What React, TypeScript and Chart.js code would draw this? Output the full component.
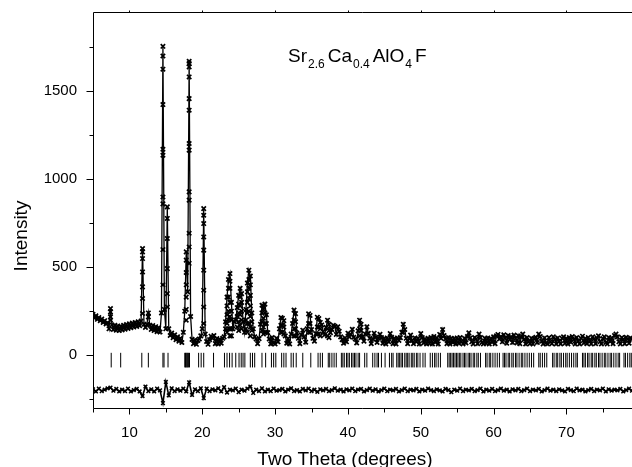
import React, { useEffect, useRef } from "react";
import { Chart, registerables } from "chart.js";

Chart.register(...registerables);

// ---- Scan definition (2θ grid of the measured pattern) ----
const SCAN_START = 5;
const SCAN_STEP = 0.2;

// Observed intensities on the 0.2° grid, 5.0° … 79.0°
const observed = [
  232, 212, 224, 204, 214, 196, 206, 186, 196, 178,
  184, 150, 265, 172, 146, 170, 142, 166, 140, 164,
  144, 170, 148, 174, 152, 178, 156, 182, 160, 186,
  164, 190, 168, 194, 606, 176, 158, 174, 240, 170,
  146, 168, 140, 162, 134, 156, 132, 240, 1755, 260,
  150, 843, 150, 112, 126, 100, 116, 88, 104, 80,
  96, 72, 130, 250, 587, 360, 1670, 220, 90, 66,
  86, 62, 84, 92, 110, 150, 833, 120, 78, 62,
  88, 108, 96, 112, 66, 94, 64, 90, 68, 96,
  104, 190, 330, 430, 464, 300, 150, 190, 200, 270,
  340, 380, 350, 190, 130, 260, 410, 483, 450, 240,
  150, 104, 92, 66, 94, 176, 284, 262, 290, 230,
  128, 92, 64, 100, 70, 64, 96, 76, 150, 214,
  210, 196, 110, 68, 94, 64, 120, 180, 256, 236,
  126, 96, 66, 116, 142, 104, 74, 150, 235, 226,
  146, 96, 80, 122, 216, 208, 186, 172, 134, 116,
  158, 199, 176, 128, 146, 170, 164, 118, 161, 136,
  104, 88, 68, 98, 76, 125, 104, 118, 147, 102,
  92, 70, 138, 199, 176, 104, 80, 120, 161, 124,
  96, 66, 92, 125, 102, 72, 96, 119, 100, 68,
  94, 64, 98, 76, 123, 102, 66, 94, 64, 98,
  84, 100, 130, 176, 146, 96, 66, 94, 114, 84,
  66, 98, 76, 96, 64, 123, 100, 70, 92, 64,
  96, 68, 100, 64, 106, 74, 98, 64, 118, 96,
  146, 112, 92, 66, 100, 64, 96, 72, 94, 64,
  98, 68, 100, 76, 64, 96, 70, 106, 127, 98,
  76, 64, 100, 92, 66, 120, 100, 72, 64, 96,
  68, 98, 64, 94, 74, 104, 66, 110, 118, 92,
  106, 76, 116, 98, 68, 112, 90, 104, 72, 114,
  96, 70, 110, 66, 102, 120, 90, 64, 100, 76,
  66, 96, 64, 94, 102, 72, 120, 106, 80, 64,
  98, 70, 64, 100, 76, 66, 104, 90, 64, 98,
  78, 64, 96, 104, 68, 94, 64, 100, 74, 106,
  90, 64, 100, 80, 64, 96, 108, 70, 94, 66,
  100, 80, 64, 104, 92, 66, 98, 110, 76, 64,
  94, 104, 72, 64, 100, 78, 98, 66, 112, 120,
  104, 76, 64, 100, 90, 66, 102, 92, 68, 98,
  92,
];

// Extra observed points along the flanks of the reflections
const flankTheta = [
  7.4, 7.4, 7.4,
  11.8, 11.8, 11.8, 11.8, 11.8, 11.8,
  12.6,
  14.6, 14.6, 14.6, 14.6, 14.6, 14.6, 14.6, 14.6, 14.6,
  15.2, 15.2, 15.2, 15.2, 15.2,
  17.8, 17.8, 17.8, 17.8, 17.8, 17.8,
  18.2, 18.2, 18.2, 18.2, 18.2, 18.2, 18.2, 18.2, 18.2, 18.2, 18.2, 18.2,
  20.2, 20.2, 20.2, 20.2, 20.2, 20.2, 20.2, 20.2,
  23.2, 23.4, 23.4, 23.4, 23.4,
  23.6, 23.6, 23.6, 23.6, 23.6,
  23.8, 23.8, 23.8, 23.8, 23.8, 23.8,
  24.0, 24.0, 24.0, 24.0, 24.8, 24.8,
  25.0, 25.0, 25.0, 25.0, 25.2, 25.2, 25.2, 25.2, 25.4, 25.4, 25.4, 25.4,
  26.0, 26.0, 26.2, 26.2, 26.2, 26.2, 26.2,
  26.4, 26.4, 26.4, 26.4, 26.4,
  26.6, 26.6, 26.6, 26.6, 26.6, 26.6, 26.8, 26.8,
  28.2, 28.2, 28.2, 28.4, 28.4, 28.4, 28.6, 28.6, 28.6, 28.8, 28.8,
  30.8, 30.8, 31.0, 31.0, 31.2, 31.2,
  32.6, 32.6, 32.6, 32.8, 32.8, 32.8,
  34.6, 34.6, 34.8, 34.8,
  35.8, 35.8, 36.0, 36.0, 36.2, 36.2,
  37.2, 37.2, 37.4, 37.4,
  41.6, 41.6, 41.8, 41.8,
  47.6,
];
const flankCounts = [
  246, 218, 199,
  587, 549, 473, 388, 322, 237,
  218,
  1700, 1625, 1424, 1170, 1136, 899, 860, 600, 400,
  777, 663, 492, 350, 274,
  540, 470, 400, 330, 260, 199,
  1657, 1638, 1581, 1458, 1392, 1203, 1165, 928, 881, 693, 615, 522,
  795, 748, 672, 597, 483, 369, 274, 180,
  150, 280, 230, 180, 130,
  380, 330, 250, 200, 150,
  420, 380, 300, 220, 150, 110,
  250, 200, 150, 110, 220, 160,
  290, 240, 190, 140, 330, 280, 230, 170, 300, 250, 200, 150,
  200, 150, 360, 300, 240, 180, 130,
  430, 380, 320, 250, 180,
  400, 340, 280, 220, 160, 110, 190, 140,
  240, 190, 140, 210, 160, 120, 240, 180, 130, 180, 130,
  170, 130, 170, 130, 160, 120,
  200, 150, 110, 190, 150, 110,
  180, 130, 180, 130,
  160, 120, 160, 120, 150, 110,
  150, 110, 140, 100,
  150, 110, 140, 100,
  130,
];

// Difference curve (Obs - Calc, offset), 0.4° grid, 5.0° … 79.0°
const DIFF_START = 5;
const DIFF_STEP = 0.4;
const difference = [
  -194, -206, -190, -204, -196, -188, -184, -202, -192, -206,
  -196, -204, -190, -206, -198, -192, -206, -232, -178, -204,
  -194, -206, -190, -200, -272, -152, -228, -188, -204, -194,
  -202, -190, -206, -154, -226, -194, -204, -188, -244, -190,
  -204, -194, -200, -188, -206, -182, -212, -196, -200, -190,
  -210, -196, -202, -190, -178, -214, -196, -204, -188, -206,
  -196, -204, -190, -202, -198, -192, -206, -196, -188, -204,
  -198, -206, -192, -200, -190, -204, -196, -208, -194, -200,
  -192, -204, -198, -188, -202, -196, -206, -194, -200, -190,
  -204, -196, -192, -206, -198, -190, -202, -194, -206, -198,
  -190, -204, -196, -200, -192, -206, -198, -190, -204, -196,
  -200, -192, -206, -196, -202, -190, -198, -204, -194, -200,
  -206, -192, -198, -210, -196, -202, -190, -204, -196, -200,
  -192, -204, -198, -190, -206, -196, -202, -192, -204, -198,
  -190, -202, -196, -206, -194, -200, -192, -204, -198, -190,
  -204, -196, -200, -192, -206, -198, -190, -202, -196, -204,
  -194, -200, -206, -192, -198, -204, -190, -200, -196, -206,
  -198, -192, -204, -196, -200, -190, -206, -194, -202, -196,
  -200, -192, -206, -198, -190, -202,
];

// Bragg reflection positions (2θ)
const braggPositions = [
  7.5, 8.8, 11.7, 12.6, 14.6, 14.75, 15.3,
  17.6, 17.7, 17.8, 17.9, 18.0, 18.1, 18.25,
  19.5, 19.85, 20.2, 21.55, 23.05, 23.4, 23.75, 24.1, 24.6,
  25.05, 25.35, 25.6, 25.85, 26.6, 26.9, 27.2, 28.2, 28.7,
  29.5, 29.8, 30.1, 30.9, 31.2, 31.5, 32.2, 32.5, 32.9, 33.8, 34.9,
  35.9, 36.2, 36.5, 37.3, 37.5, 37.8, 38.1, 38.4,
  39.1, 39.3, 39.5, 39.8, 40.0, 40.2, 40.5, 40.7, 40.9, 41.1, 41.4, 41.6,
  42.3, 42.6, 43.4, 43.7, 44.0, 44.2, 44.6, 45.1, 45.7, 46.0, 46.2,
  46.7, 46.9, 47.1, 47.3, 47.5, 47.8, 48.0, 48.2, 48.4, 48.7, 48.9,
  49.1, 49.4, 49.6, 49.9, 50.3, 50.6, 51.3, 51.6, 51.9, 52.1, 52.4, 52.7,
  53.7, 53.9, 54.1, 54.3, 54.5, 54.7, 54.9, 55.1, 55.3, 55.5, 55.8,
  56.0, 56.2, 56.5, 56.7, 56.9, 57.2, 57.4, 57.7, 57.9, 58.2,
  58.9, 59.1, 59.4, 59.6, 59.9, 60.2, 60.5, 60.8,
  61.3, 61.5, 61.7, 62.0, 62.2, 62.5, 62.7, 63.0, 63.2, 63.5, 63.8,
  64.0, 64.3, 64.6, 64.9, 65.2, 65.5,
  66.2, 66.4, 66.7, 67.0, 67.3,
  68.1, 68.3, 68.6, 68.8, 69.1, 69.3, 69.6, 69.9, 70.1, 70.4, 70.7,
  71.0, 71.3, 71.5,
  72.2, 72.4, 72.6, 72.9, 73.1, 73.4, 73.6, 73.9, 74.1, 74.4, 74.6,
  74.9, 75.2, 75.4, 75.7, 76.0, 76.2, 76.5, 76.8, 77.1, 77.3,
  77.9, 78.1, 78.4, 78.7, 78.9,
];
const BRAGG_LEVEL = -28;

// Axes
const X_MIN = 5;
const X_MAX = 79;
const Y_MIN = -300;
const Y_MAX = 1950;
const xMajorTicks = [10, 20, 30, 40, 50, 60, 70];
const xMinorTicks = [5, 15, 25, 35, 45, 55, 65, 75];
const yMajorTicks = [0, 500, 1000, 1500];
const yMinorTicks = [-250, 250, 750, 1250, 1750];

const FONT = "'Liberation Sans', Arial, Helvetica, sans-serif";

const formulaParts: [string, boolean][] = [
  ["Sr", false],
  ["2.6", true],
  ["Ca", false],
  ["0.4", true],
  ["AlO", false],
  ["4", true],
  ["F", false],
];

const framePlugin = {
  id: "frame",
  afterDraw(chart: any) {
    const { ctx, chartArea: a, scales } = chart;
    const x = scales.x;
    const y = scales.y;
    ctx.save();
    ctx.strokeStyle = "#000";
    ctx.lineWidth = 1;
    const L = Math.round(a.left) + 0.5;
    const T = Math.round(a.top) + 0.5;
    const B = Math.round(a.bottom) + 0.5;
    ctx.beginPath();
    ctx.moveTo(L, T);
    ctx.lineTo(a.right, T);
    ctx.moveTo(L, T);
    ctx.lineTo(L, B);
    ctx.moveTo(L, B);
    ctx.lineTo(a.right, B);
    xMajorTicks.forEach((v) => {
      const p = Math.round(x.getPixelForValue(v)) + 0.5;
      ctx.moveTo(p, B);
      ctx.lineTo(p, B + 6);
      ctx.moveTo(p, T);
      ctx.lineTo(p, T - 2);
    });
    xMinorTicks.forEach((v) => {
      const p = Math.round(x.getPixelForValue(v)) + 0.5;
      ctx.moveTo(p, B);
      ctx.lineTo(p, B + 4);
    });
    yMajorTicks.forEach((v) => {
      const p = Math.round(y.getPixelForValue(v)) + 0.5;
      ctx.moveTo(L, p);
      ctx.lineTo(L - 7, p);
    });
    yMinorTicks.forEach((v) => {
      const p = Math.round(y.getPixelForValue(v)) + 0.5;
      ctx.moveTo(L, p);
      ctx.lineTo(L - 4, p);
    });
    ctx.stroke();

    ctx.fillStyle = "#000";
    // axis titles
    ctx.font = `19px ${FONT}`;
    ctx.textAlign = "center";
    ctx.textBaseline = "alphabetic";
    ctx.fillText("Two Theta (degrees)", 345, 465);
    ctx.save();
    ctx.translate(27, 236);
    ctx.rotate(-Math.PI / 2);
    ctx.fillText("Intensity", 0, 0);
    ctx.restore();

    // compound label
    ctx.textAlign = "left";
    let cx = 288;
    formulaParts.forEach(([t, isSub]) => {
      ctx.font = isSub ? `12px ${FONT}` : `19px ${FONT}`;
      ctx.fillText(t, cx, isSub ? 67.5 : 61.5);
      cx += ctx.measureText(t).width + (isSub ? 3 : 1);
    });
    ctx.restore();
  },
};

export default function App() {
  const ref = useRef<HTMLCanvasElement | null>(null);

  useEffect(() => {
    if (!ref.current) return;
    const obsPts = observed.map((v, i) => ({
      x: +(SCAN_START + i * SCAN_STEP).toFixed(2),
      y: v,
    }));
    const flankPts = flankTheta.map((t, i) => ({ x: t, y: flankCounts[i] }));
    const diffPts = difference.map((v, i) => ({
      x: +(DIFF_START + i * DIFF_STEP).toFixed(2),
      y: v,
    }));
    const braggPts = braggPositions.map((t) => ({ x: t, y: BRAGG_LEVEL }));

    const chart = new Chart(ref.current, {
      type: "scatter",
      data: {
        datasets: [
          {
            data: braggPts,
            showLine: false,
            pointStyle: "line",
            rotation: 90,
            pointRadius: 7.3,
            borderColor: "#000",
            borderWidth: 1,
          },
          {
            data: diffPts,
            showLine: true,
            borderColor: "#000",
            borderWidth: 1.6,
            pointStyle: "crossRot",
            pointRadius: 2.6,
            pointBorderWidth: 1.5,
            pointBorderColor: "#000",
          },
          {
            data: obsPts,
            showLine: true,
            borderColor: "#000",
            borderWidth: 1.3,
            pointRadius: 0,
          },
          {
            data: obsPts.concat(flankPts),
            showLine: false,
            pointStyle: "crossRot",
            pointRadius: 3.1,
            pointBorderWidth: 1.7,
            pointBorderColor: "#000",
            borderColor: "#000",
          },
        ],
      },
      options: {
        animation: false,
        responsive: true,
        maintainAspectRatio: false,
        events: [],
        layout: { autoPadding: false, padding: { top: 12, right: 0, left: 0, bottom: 0 } },
        elements: { line: { tension: 0 } },
        plugins: {
          legend: { display: false },
          tooltip: { enabled: false },
        },
        scales: {
          x: {
            type: "linear",
            min: X_MIN,
            max: X_MAX,
            grid: { display: false },
            border: { display: false },
            afterBuildTicks: (s: any) => {
              s.ticks = xMajorTicks.map((v) => ({ value: v }));
            },
            afterFit: (s: any) => {
              s.height = 59;
              s.paddingLeft = 0;
              s.paddingRight = 0;
            },
            ticks: {
              color: "#000",
              padding: 8,
              maxRotation: 0,
              callback: (v: any) => String(v),
              font: { family: FONT, size: 15 },
            },
          },
          y: {
            type: "linear",
            min: Y_MIN,
            max: Y_MAX,
            grid: { display: false },
            border: { display: false },
            afterBuildTicks: (s: any) => {
              s.ticks = yMajorTicks.map((v) => ({ value: v }));
            },
            afterFit: (s: any) => {
              s.width = 93;
              s.paddingTop = 0;
              s.paddingBottom = 0;
            },
            ticks: {
              color: "#000",
              padding: 8,
              callback: (v: any) => String(v),
              font: { family: FONT, size: 15 },
            },
          },
        },
      },
      plugins: [framePlugin],
    });
    return () => chart.destroy();
  }, []);

  return (
    <div style={{ position: "fixed", left: 0, top: 0, width: 632, height: 467, background: "#fff" }}>
      <canvas ref={ref} />
    </div>
  );
}
